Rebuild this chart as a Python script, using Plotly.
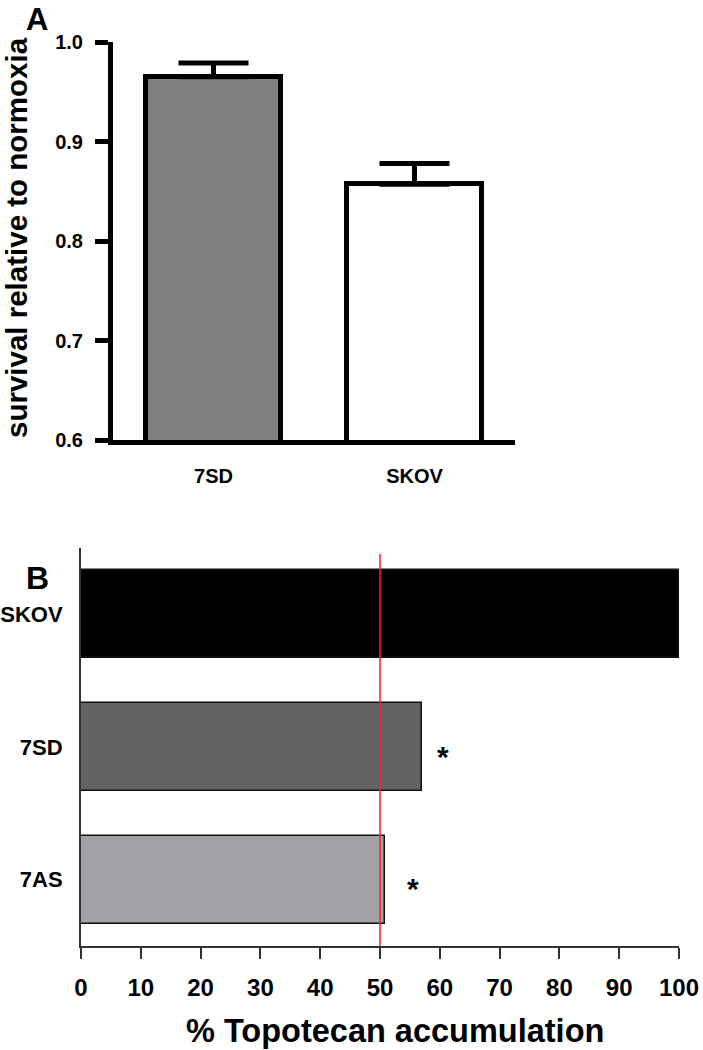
import plotly.graph_objects as go

# Panel A data
a_categories = ["7SD", "SKOV"]
a_values = [0.965, 0.857]
a_err_plus = [0.014, 0.021]
a_colors = ["#808080", "#ffffff"]
a_yticks = [0.6, 0.7, 0.8, 0.9, 1.0]
a_yticklabels = ["0.6", "0.7", "0.8", "0.9", "1.0"]

# Panel B data
b_categories = ["SKOV", "7SD", "7AS"]
b_values = [100, 57, 50.8]
b_colors = ["#000000", "#636363", "#a2a2a6"]
b_sig = ["", "*", "*"]
b_sig_x = [0, 60.5, 55.5]
b_xticks = [0, 10, 20, 30, 40, 50, 60, 70, 80, 90, 100]
b_ref_line = 50

W, H = 703, 1050
FONT = "Liberation Sans, Arial, sans-serif"

fig = go.Figure()

fig.add_trace(go.Bar(
    x=a_categories, y=a_values, width=0.67,
    marker=dict(color=a_colors, line=dict(color="black", width=5)),
    error_y=dict(type="data", array=a_err_plus, arrayminus=[0, 0], symmetric=False,
                 color="black", thickness=5, width=35),
    xaxis="x", yaxis="y", showlegend=False,
))

fig.add_trace(go.Bar(
    y=b_categories, x=b_values, orientation="h", width=0.665,
    marker=dict(color=b_colors, line=dict(color="#111111", width=1.5)),
    xaxis="x2", yaxis="y2", showlegend=False,
))

fig.add_shape(type="line", xref="x2", yref="y2 domain", x0=b_ref_line, x1=b_ref_line,
              y0=0, y1=0.985, line=dict(color="#ff2020", width=1.5))

annotations = [
    dict(text="A", x=24 / W, y=1.0, xref="paper", yref="paper",
         showarrow=False, font=dict(size=31, family=FONT, weight="bold"),
         xanchor="left", yanchor="top"),
    dict(text="B", x=24 / W, y=1 - 578 / H, xref="paper", yref="paper",
         showarrow=False, font=dict(size=32, family=FONT, weight="bold"),
         xanchor="left", yanchor="middle"),
    dict(text="survival relative to normoxia", x=16 / W, y=1 - 238 / H,
         xref="paper", yref="paper", textangle=-90, showarrow=False,
         font=dict(size=29.5, family=FONT, weight="bold"),
         xanchor="center", yanchor="middle"),
    dict(text="% Topotecan accumulation", x=395 / W, y=1 - 1031 / H,
         xref="paper", yref="paper", showarrow=False,
         font=dict(size=32.5, family=FONT, weight="bold"),
         xanchor="center", yanchor="middle"),
]
for sx, cat, s in zip(b_sig_x, b_categories, b_sig):
    if s:
        annotations.append(dict(text=s, x=sx, y=cat, xref="x2", yref="y2",
                                showarrow=False, yshift=-9,
                                font=dict(size=30, family=FONT, weight="bold"),
                                xanchor="center", yanchor="middle"))

fig.update_layout(
    template="none",
    width=W, height=H, margin=dict(l=0, r=0, t=0, b=0, autoexpand=False),
    paper_bgcolor="white", plot_bgcolor="white",
    font=dict(family=FONT, color="black"),
    bargap=0,
    xaxis=dict(domain=[113 / W, 515 / W], range=[-0.5, 1.5], showline=True, linewidth=5,
               linecolor="black", ticks="", showgrid=False, zeroline=False,
               tickfont=dict(size=20, family=FONT, weight="bold"), ticklabelstandoff=14,
               anchor="y", automargin=False),
    yaxis=dict(domain=[1 - 440 / H, 1 - 42 / H], range=[0.6, 1.0], showline=True,
               linewidth=5, linecolor="black", ticks="outside", ticklen=13, tickwidth=5,
               tickcolor="black", tickvals=a_yticks, ticktext=a_yticklabels,
               tickfont=dict(size=20, family=FONT, weight="bold"), ticklabelstandoff=8,
               showgrid=False, zeroline=False, anchor="x", automargin=False),
    xaxis2=dict(domain=[81 / W, 679 / W], range=[0, 100], showline=True, linewidth=2,
                linecolor="#333333", ticks="outside", ticklen=11, tickwidth=2,
                tickcolor="#333333", tickvals=b_xticks, showgrid=False, zeroline=False,
                tickfont=dict(size=24, family=FONT, weight="bold"), ticklabelstandoff=8,
                anchor="y2", automargin=False),
    yaxis2=dict(domain=[1 - 946 / H, 1 - 548 / H], range=[2.5, -0.5], showline=True,
                linewidth=2, linecolor="#333333", ticks="", showgrid=False, zeroline=False,
                tickfont=dict(size=22, family=FONT, weight="bold"), ticklabelstandoff=12,
                anchor="x2", automargin=False),
    annotations=annotations,
)

fig.write_html("out.html", config={"displayModeBar": False},
               post_script="document.body.style.margin='0';document.body.style.overflow='hidden';")
